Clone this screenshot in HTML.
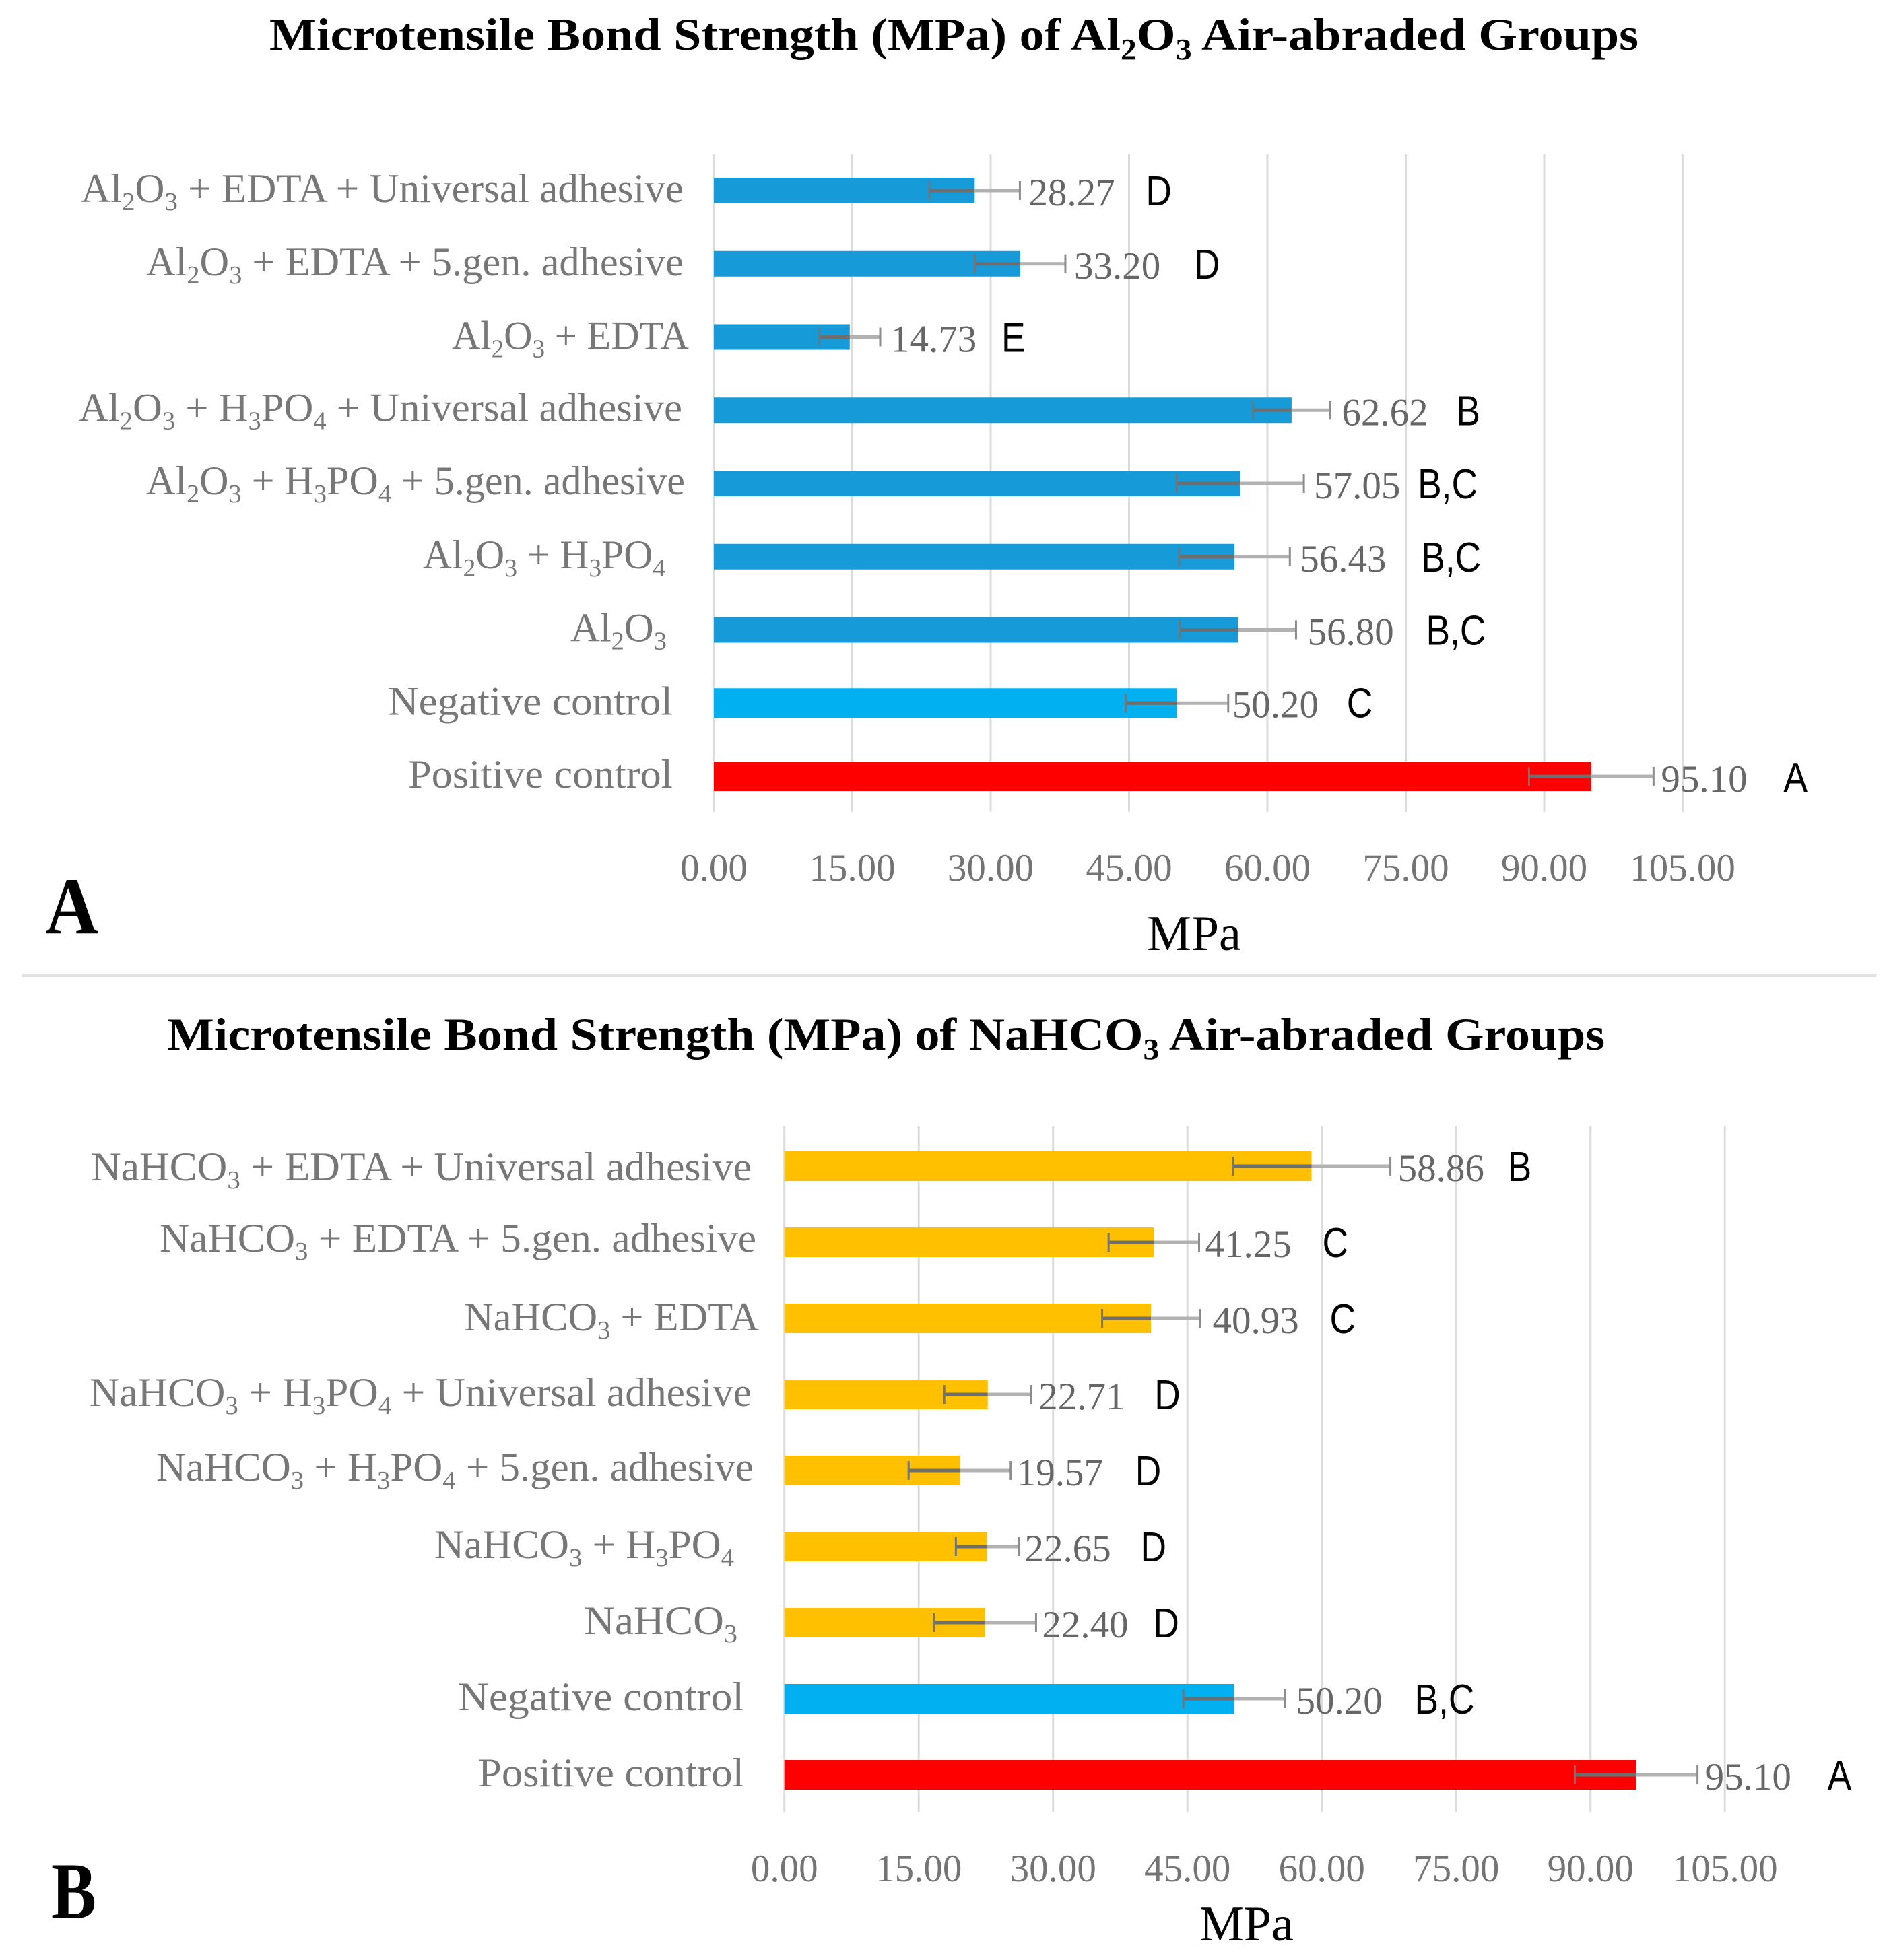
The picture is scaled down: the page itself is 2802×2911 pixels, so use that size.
<!DOCTYPE html>
<html lang="en">
<head>
<meta charset="utf-8">
<title>Microtensile Bond Strength</title>
<style>
html,body{margin:0;padding:0;background:#fff;}
svg{display:block;}
text{font-family:"Liberation Serif",serif;}
</style>
</head>
<body>
<svg id="figure" xmlns="http://www.w3.org/2000/svg" width="2802" height="2911" viewBox="0 0 2802 2911">
  <rect x="0" y="0" width="2802" height="2911" fill="#ffffff"/>
  <text x="400" y="74" textLength="2033" lengthAdjust="spacingAndGlyphs" font-size="68" font-weight="bold" fill="#000">Microtensile Bond Strength (MPa) of Al<tspan font-size="44" dy="14">2</tspan><tspan dy="-14">O</tspan><tspan font-size="44" dy="14">3</tspan><tspan dy="-14"> Air-abraded Groups</tspan></text>
  <text x="248" y="1559" textLength="2135" lengthAdjust="spacingAndGlyphs" font-size="68" font-weight="bold" fill="#000">Microtensile Bond Strength (MPa) of NaHCO<tspan font-size="44" dy="14">3</tspan><tspan dy="-14"> Air-abraded Groups</tspan></text>
  <text x="67" y="1386" textLength="79" lengthAdjust="spacingAndGlyphs" font-size="120" font-weight="bold" fill="#000">A</text>
  <text x="76" y="2849" textLength="67" lengthAdjust="spacingAndGlyphs" font-size="120" font-weight="bold" fill="#000">B</text>
  <rect x="32" y="1446" width="2754" height="5" fill="#e2e2e2"/>
  <g id="chart-a"></g>
  <g id="chart-b"></g>
</svg>
<script>
// ---- Chart A data ----
const categoriesA = ["Al_2O_3 + EDTA + Universal adhesive","Al_2O_3 + EDTA + 5.gen. adhesive","Al_2O_3 + EDTA","Al_2O_3 + H_3PO_4 + Universal adhesive","Al_2O_3 + H_3PO_4 + 5.gen. adhesive","Al_2O_3 + H_3PO_4","Al_2O_3","Negative control","Positive control"];
const valuesA = [28.27,33.20,14.73,62.62,57.05,56.43,56.80,50.20,95.10];
const errorsA = [4.9,4.9,3.3,4.2,6.9,6.0,6.3,5.55,6.75];
const lettersA = ["D","D","E","B","B,C","B,C","B,C","C","A"];
const ticksA = [0,15,30,45,60,75,90,105];
// ---- Chart B data ----
const categoriesB = ["NaHCO_3 + EDTA + Universal adhesive","NaHCO_3 + EDTA + 5.gen. adhesive","NaHCO_3 + EDTA","NaHCO_3 + H_3PO_4 + Universal adhesive","NaHCO_3 + H_3PO_4 + 5.gen. adhesive","NaHCO_3 + H_3PO_4","NaHCO_3","Negative control","Positive control"];
const valuesB = [58.86,41.25,40.93,22.71,19.57,22.65,22.40,50.20,95.10];
const errorsB = [8.8,5.05,5.45,4.85,5.7,3.5,5.7,5.65,6.85];
const lettersB = ["B","C","C","D","D","D","D","B,C","A"];
const ticksB = [0,15,30,45,60,75,90,105];

// ---- Layout (not data) ----
const layoutA = {
  x0:1060, pxPerUnit:13.70, firstRow:283, rowStep:108.75, gridTop:229, gridBottom:1206,
  tickBaseline:1308, axisTitleX:1773, axisTitleBaseline:1411,
  fills:["#169ad8","#169ad8","#169ad8","#169ad8","#169ad8","#169ad8","#169ad8","#00b0f0","#ff0000"],
  thick:[38,38,38,38,38,38,38,44,44],
  labelRight:[1015,1015,1023,1013,1017,988,990,999,999],
  labelWidth:[895,798,352,896,800,360,143,423,393],
  labelDy:[17,17,18,16,16,17,17,17,17],
  valueGap:[13,13,15,17,15,15,17,6,11],
  letterGap:[174,178,165,170,154,180,176,170,182],
  valueDy:[22,22,22,22,22,22,22,21,23],
  prefix:"a"
};
const layoutB = {
  x0:1164.7, pxPerUnit:13.30, firstRow:1732, rowStep:113, gridTop:1673, gridBottom:2691,
  tickBaseline:2794, axisTitleX:1851, axisTitleBaseline:2882,
  fills:["#ffc000","#ffc000","#ffc000","#ffc000","#ffc000","#ffc000","#ffc000","#00b0f0","#ff0000"],
  thick:[44,44,44,44,44,44,44,44,44],
  labelRight:[1116,1123,1127,1116,1119,1090,1095,1105,1105],
  labelWidth:[981,886,438,983,887,445,228,425,395],
  labelDy:[21,14,18,17,15,17,17,17,17],
  valueGap:[11,9,19,11,9,9,9,17,11],
  letterGap:[163,174,174,172,176,172,165,176,182],
  valueDy:[22,22,22,22,22,22,22,22,22],
  prefix:"b"
};

const NS = "http://www.w3.org/2000/svg";
function make(tag, parent, attrs){
  const n = document.createElementNS(NS, tag);
  for (const k in attrs) n.setAttribute(k, attrs[k]);
  parent.appendChild(n);
  return n;
}
function addRich(node, label, fontSize){
  // "_d" marks a subscript digit
  const parts = label.split(/_(\d)/);
  const sub = Math.round(fontSize*0.64);
  const drop = Math.round(fontSize*0.2);
  parts.forEach(function(p, i){
    if (!p) return;
    const t = make("tspan", node, {});
    t.textContent = p;
    if (i % 2 === 1){
      t.setAttribute("font-size", sub);
      t.setAttribute("dy", drop);
    } else if (i > 0){
      t.setAttribute("dy", -drop);
    }
  });
}

function drawChart(root, categories, values, errors, letters, ticks, L){
  const xScale = function(v){ return L.x0 + v*L.pxPerUnit; };
  const yRow = function(i){ return L.firstRow + i*L.rowStep; };

  ticks.forEach(function(t){
    const g = make("line", root, {x1:xScale(t), x2:xScale(t), y1:L.gridTop, y2:L.gridBottom, stroke:"#dcdcdc", "stroke-width":3});
    
    
    const lab = make("text", root, {x:xScale(t), y:L.tickBaseline, "text-anchor":"middle", "font-size":57, fill:"#747474"});
    
    
    lab.textContent = t.toFixed(2);
  });

  const title = make("text", root, {x:L.axisTitleX, y:L.axisTitleBaseline, "text-anchor":"middle", "font-size":74, fill:"#000"});
  
  
  title.textContent = "MPa";

  categories.forEach(function(cat, i){
    const cy = yRow(i);
    const v = values[i], e = errors[i];
    const h = L.thick[i];

    const label = make("text", root, {x:L.labelRight[i]-L.labelWidth[i], y:cy+L.labelDy[i], "font-size":60, fill:"#777777", textLength:L.labelWidth[i], lengthAdjust:"spacingAndGlyphs"});
    
    
    addRich(label, cat, 60);

    const bar = make("rect", root, {x:xScale(0), y:cy-h/2, width:xScale(v)-xScale(0), height:h, fill:L.fills[i]});
    
    

    const lo = xScale(v-e), hi = xScale(v+e), end = xScale(v);
    const whiskerLow = make("line", root, {x1:lo, x2:end, y1:cy, y2:cy, stroke:"#6e6e6e", "stroke-width":5});
    
    
    const whiskerHigh = make("line", root, {x1:end, x2:hi, y1:cy, y2:cy, stroke:"#b2b2b2", "stroke-width":5});
    
    
    const capLow = make("line", root, {x1:lo, x2:lo, y1:cy-14, y2:cy+14, stroke:"#757575", "stroke-width":3});
    
    
    const capHigh = make("line", root, {x1:hi, x2:hi, y1:cy-14, y2:cy+14, stroke:"#8c8c8c", "stroke-width":3});
    
    

    const valueX = hi + L.valueGap[i];
    const val = make("text", root, {x:valueX, y:cy+L.valueDy[i], "font-size":57, fill:"#666666"});
    
    
    val.textContent = v.toFixed(2);

    const sig = make("text", root, {x:valueX+L.letterGap[i], y:cy+L.valueDy[i], "font-size":62, fill:"#000"});
    
    
    sig.style.fontFamily = '"Liberation Sans",sans-serif';
    sig.textContent = letters[i];
    sig.setAttribute("textLength", (sig.getComputedTextLength()*0.86).toFixed(1));
    sig.setAttribute("lengthAdjust", "spacingAndGlyphs");
  });
}

drawChart(document.getElementById("chart-a"), categoriesA, valuesA, errorsA, lettersA, ticksA, layoutA);
drawChart(document.getElementById("chart-b"), categoriesB, valuesB, errorsB, lettersB, ticksB, layoutB);
</script>
</body>
</html>
